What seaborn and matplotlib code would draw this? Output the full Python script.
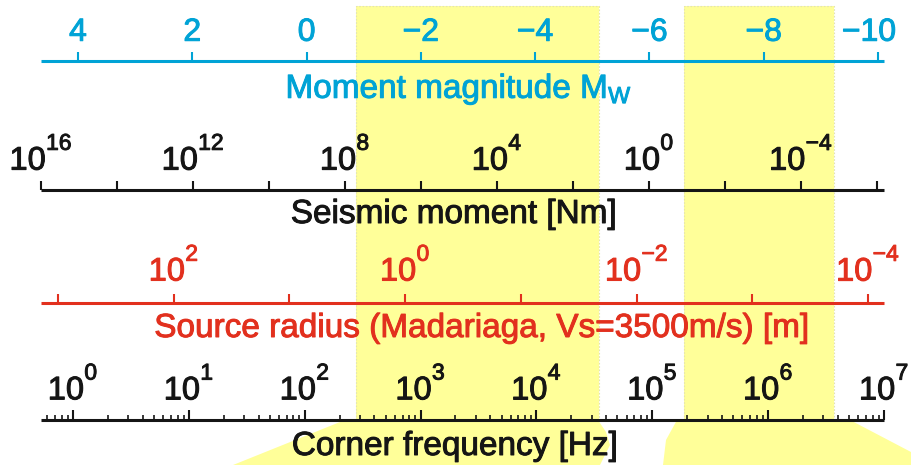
import numpy as np
import matplotlib
matplotlib.use("Agg")
import matplotlib.pyplot as plt
import matplotlib._mathtext as _mt
import matplotlib.transforms as mtrans
import matplotlib.patheffects as pe
import seaborn as sns
from matplotlib.patches import Polygon
from matplotlib.ticker import FixedLocator, FixedFormatter, NullLocator, LogLocator

# ---------------- data ----------------
mw_ticks = [4, 2, 0, -2, -4, -6, -8, -10]
moment_tick_exps = [16, 14, 12, 10, 8, 6, 4, 2, 0, -2, -4, -6]
moment_label_exps = [16, 12, 8, 4, 0, -4]
radius_tick_exps = [3, 2, 1, 0, -1, -2, -3, -4]
radius_label_exps = [2, 0, -2, -4]
freq_major_exps = [0, 1, 2, 3, 4, 5, 6, 7]
band_freq_lo = [2.77e2, 1.88e5]
band_freq_hi = [3.47e4, 3.70e6]
axis_titles = ["Moment magnitude $\\mathregular{M_W}$",
               "Seismic moment [Nm]",
               "Source radius (Madariaga, Vs=3500m/s) [m]",
               "Corner frequency [Hz]"]

# ---------------- style ----------------
sns.set_theme(style="white")
plt.rcParams["font.family"] = ["Liberation Sans", "DejaVu Sans"]
plt.rcParams["mathtext.fontset"] = "custom"
plt.rcParams["mathtext.rm"] = "Liberation Sans"
plt.rcParams["mathtext.it"] = "Liberation Sans:italic"
plt.rcParams["mathtext.bf"] = "Liberation Sans:bold"
plt.rcParams["mathtext.sf"] = "Liberation Sans"
# raise superscripts higher, like the reference typesetting
_mt.FontConstantsBase.sup1 = 1.15

CYAN = "#00A3D6"
RED = "#E2301E"
BLACK = "#151515"
YELLOW = "#FFFF99"

W, H = 911, 465
L, R = 41, 884
fig = plt.figure(figsize=(W / 100, H / 100), dpi=100)


def fx(px):
    return px / W


def fy(py):
    return 1 - py / H


def heavy(color):
    return [pe.withStroke(linewidth=0.7, foreground=color)]


# ---------------- highlight bands ----------------
axb = fig.add_axes([fx(L), 0, fx(R) - fx(L), 1], zorder=0)
axb.set_xscale("log")
axb.set_xlim(10 ** -0.276, 1e7)
axb.set_ylim(H, 0)
axb.axis("off")
for lo, hi in zip(band_freq_lo, band_freq_hi):
    axb.fill_between([lo, hi], 6, 420, color=YELLOW, lw=0)
    axb.fill_between([lo, hi], 6, 420, facecolor="none", edgecolor="#E4E4B0",
                     lw=0.8, linestyle=(0, (1.5, 1.5)))

# connector shapes below the frequency scale
conn1 = [(345, 420), (598, 420), (606, 432), (610, 445), (600, 465), (233, 465)]
conn2 = [(677, 420), (850, 420), (911, 452), (911, 465), (663, 465), (666, 440)]
for verts in (conn1, conn2):
    fig.patches.append(Polygon([(fx(x), fy(y)) for x, y in verts], closed=True,
                               transform=fig.transFigure, facecolor=YELLOW,
                               edgecolor="none", zorder=0))


# ---------------- scales ----------------
def make_scale(line_y, color, log=False, pad=3, size=23):
    ax = fig.add_axes([fx(L), fy(line_y), fx(R) - fx(L), 0.0001], zorder=2)
    ax.patch.set_visible(False)
    sns.despine(ax=ax, top=False, left=True, bottom=True, right=True)
    ax.spines["top"].set_color(color)
    ax.spines["top"].set_linewidth(2.2)
    ax.spines["top"].set_capstyle("butt")
    if log:
        ax.set_xscale("log")
    ax.xaxis.set_ticks_position("top")
    ax.set_yticks([])
    ax.tick_params(axis="x", which="major", direction="out", length=6.5,
                   width=1.5, color=color, labelcolor=color, labelsize=size,
                   pad=pad)
    ax.tick_params(axis="x", which="minor", direction="out", length=3.5,
                   width=1.2, color=color)
    ax.grid(False)
    return ax


# Moment magnitude
ax1 = make_scale(61, CYAN)
ax1.set_xlim(4.648, -10.105)
ax1.xaxis.set_major_locator(FixedLocator(mw_ticks))
ax1.xaxis.set_major_formatter(FixedFormatter([str(v).replace("-", "\u2212") for v in mw_ticks]))
ax1.xaxis.set_minor_locator(NullLocator())

# Seismic moment
ax2 = make_scale(190, BLACK, log=True, size=23.5)
ax2.set_xlim(1e16, 10 ** -6.184)
ax2.xaxis.set_major_locator(FixedLocator([10.0 ** e for e in moment_tick_exps]))
ax2.xaxis.set_major_formatter(FixedFormatter(
    ["$\\mathregular{10^{%d}}$" % e if e in moment_label_exps else "" for e in moment_tick_exps]))
ax2.xaxis.set_minor_locator(NullLocator())

# Source radius
ax3 = make_scale(303, RED, log=True, pad=4.5, size=23.5)
ax3.set_xlim(10 ** 3.147, 10 ** -4.138)
ax3.xaxis.set_major_locator(FixedLocator([10.0 ** e for e in radius_tick_exps]))
ax3.xaxis.set_major_formatter(FixedFormatter(
    ["$\\mathregular{10^{%d}}$" % e if e in radius_label_exps else "" for e in radius_tick_exps]))
ax3.xaxis.set_minor_locator(NullLocator())

# Corner frequency
ax4 = make_scale(420, BLACK, log=True, pad=2.5, size=23.5)
ax4.set_xlim(10 ** -0.276, 1e7)
ax4.xaxis.set_major_locator(FixedLocator([10.0 ** e for e in freq_major_exps]))
ax4.xaxis.set_major_formatter(FixedFormatter(
    ["$\\mathregular{10^{%d}}$" % e for e in freq_major_exps]))
ax4.xaxis.set_minor_locator(LogLocator(base=10, subs=np.arange(2, 10), numticks=30))
ax4.tick_params(axis="x", which="major", length=7.2)

# the last magnitude label sits slightly left of its tick in the reference
last = ax1.xaxis.get_major_ticks()[-1].label2
last.set_transform(last.get_transform() +
                   mtrans.ScaledTranslation(-0.09, 0, fig.dpi_scale_trans))

for ax, c in ((ax1, CYAN), (ax2, BLACK), (ax3, RED), (ax4, BLACK)):
    for tk in ax.xaxis.get_major_ticks():
        tk.label2.set_path_effects(heavy(c))

# axis titles
title_pos = [(459, 98, CYAN), (454, 223, BLACK), (482, 337, RED), (455, 455, BLACK)]
for text, (x, y, c) in zip(axis_titles, title_pos):
    fig.text(fx(x), fy(y), text, ha="center", va="baseline", color=c,
             fontsize=24, zorder=3, path_effects=heavy(c))

fig.savefig("out.png", dpi=100)
